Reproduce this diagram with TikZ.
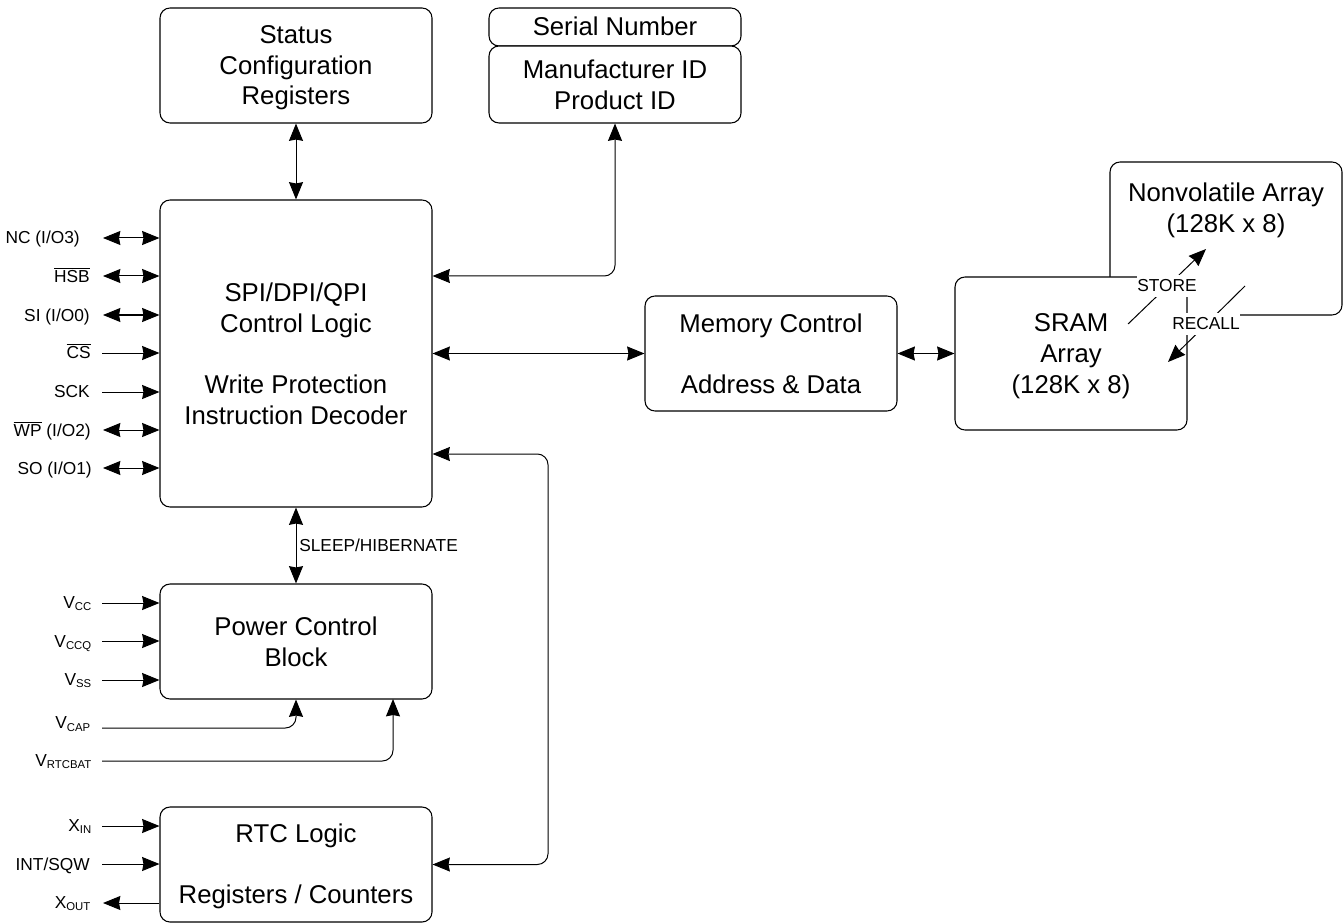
\documentclass[tikz,border=0pt]{standalone}
\usepackage{fontspec}
\setmainfont{Liberation Sans}
\usetikzlibrary{arrows.meta,calc}
\newcommand\bigfont{\fontsize{19.3}{23}\selectfont}
\newcommand\smallfont{\fontsize{13}{15}\selectfont}
\newcommand\subfont{\fontsize{8.5}{9}\selectfont}
\newcommand\VV[2]{#1\raisebox{-2.2pt}{\subfont #2}}
\newcommand\OB[1]{$\overline{\mbox{\smallfont #1}}$}
\newcommand\tall[1]{\rule{0pt}{#1}}
\newcommand\blk[6]{\node[blk,minimum width={(#4-#2)*0.75pt},minimum height={(#5-#3)*0.75pt}] (#1) at ({(#2+#4)/2},{(#3+#5)/2}) {#6};}
\tikzset{
  blk/.style={draw=black,fill=white,line width=0.8pt,rounded corners=7.5pt,inner sep=0pt,align=center,font=\bigfont},
  lab/.style={anchor=base east,inner sep=0pt,font=\smallfont},
  sig/.style={line width=0.75pt,draw=black},
  twohead/.style={sig,{Stealth[length=13pt,width=10.5pt,inset=1pt]}-{Stealth[length=13pt,width=10.5pt,inset=1pt]}},
  onehead/.style={sig,-{Stealth[length=13pt,width=10.5pt,inset=1pt]}},
  roundbend/.style={rounded corners=8pt},
  caplabel/.style={fill=white,inner ysep=0pt,inner xsep=0.5pt,minimum height=16pt,font=\smallfont}
}
\begin{document}
\begin{tikzpicture}[x=0.75pt,y=-0.75pt]
\useasboundingbox (0,0) rectangle (1344,923);
% blocks
\blk{status}{160}{8}{432}{123}{\tall{17.2pt}Status\\Configuration\\Registers}
\blk{serial}{489}{8}{741}{46}{\rule[-1.5pt]{0pt}{1pt}Serial Number}
\blk{mfr}{489}{46}{741}{123}{Manufacturer ID\\Product ID}
\blk{spi}{160}{200}{432}{507}{SPI/DPI/QPI\\Control Logic\\~\\Write Protection\\Instruction Decoder}
\blk{mem}{645}{296}{897}{411}{Memory Control\\~\\Address \& Data}
\blk{nv}{1110}{162}{1342}{315}{}
\node[inner sep=0pt,align=center,font=\bigfont] (nvtext) at (1226,210.5) {Nonvolatile Array\\(128K x 8)};
\blk{sram}{955}{277}{1187}{430}{\tall{17.6pt}SRAM\\Array\\(128K x 8)}
\blk{power}{160}{584}{432}{699}{Power Control\\Block}
\blk{rtc}{160}{807}{432}{922}{\tall{17.2pt}RTC Logic\\~\\Registers / Counters}
% main connectors
\draw[twohead] (status.south) -- (spi.north);
\coordinate (pidturn) at (615,276);
\draw[twohead,roundbend] (mfr.south) -- (pidturn) -- (pidturn -| spi.east);
\draw[twohead] (spi.east |- mem.west) -- (mem.west);
\draw[twohead] (mem.east) -- (sram.west |- mem.east);
\draw[twohead] (spi.south) -- (power.north);
\node[anchor=west,inner sep=0pt,font=\smallfont] (sleep) at (299,545) {SLEEP/HIBERNATE};
\coordinate (busturn) at (548,454);
\draw[twohead,roundbend] (busturn -| spi.east) -- (busturn) -- (busturn |- rtc.east) -- (rtc.east);
% store / recall
\coordinate (storeA) at (1128,324);
\coordinate (storeB) at (1206,249);
\coordinate (recallA) at (1245,286);
\coordinate (recallB) at (1168,362);
\draw[onehead] (storeA) -- (storeB);
\draw[onehead] (recallA) -- (recallB);
\node[caplabel] (store) at (1167,286) {STORE};
\node[caplabel] (recall) at (1206,324) {RECALL};
% left pins: SPI
\node[lab] (lnc) at (80,244) {NC (I/O3)};
\node[lab] (lhsb) at (90,282) {\OB{HSB}};
\node[lab] (lsi) at (90,321) {SI (I/O0)};
\node[lab] (lcs) at (91,358.5) {\OB{CS}};
\node[lab] (lsck) at (90,397) {SCK};
\node[lab] (lwp) at (91,436) {\OB{WP} (I/O2)};
\node[lab] (lso) at (92,474) {SO (I/O1)};
\coordinate (pnc) at (103,238);
\coordinate (phsb) at (103,276);
\coordinate (psi) at (103,315);
\coordinate (pcs) at (102,353);
\coordinate (psck) at (102,392);
\coordinate (pwp) at (103,430);
\coordinate (pso) at (103,468);
\draw[twohead] (pnc) -- (pnc -| spi.west);
\draw[twohead] (phsb) -- (phsb -| spi.west);
\draw[twohead] (psi) -- (psi -| spi.west);
\draw[onehead] (pcs) -- (pcs -| spi.west);
\draw[onehead] (psck) -- (psck -| spi.west);
\draw[twohead] (pwp) -- (pwp -| spi.west);
\draw[twohead] (pso) -- (pso -| spi.west);
% left pins: power
\node[lab] (lcc) at (91.5,608) {\VV{V}{CC}};
\node[lab] (lccq) at (91.5,647) {\VV{V}{CCQ}};
\node[lab] (lss) at (91.5,685) {\VV{V}{SS}};
\node[lab] (lcap) at (90.5,728.5) {\VV{V}{CAP}};
\node[lab] (lbat) at (91.5,766) {\VV{V}{RTCBAT}};
\coordinate (pcc) at (102,603);
\coordinate (pccq) at (102,641);
\coordinate (pss) at (102,680);
\coordinate (pcap) at (102,728);
\coordinate (pbat) at (102,761);
\draw[onehead] (pcc) -- (pcc -| power.west);
\draw[onehead] (pccq) -- (pccq -| power.west);
\draw[onehead] (pss) -- (pss -| power.west);
\draw[onehead,roundbend] (pcap) -- (pcap -| power.south) -- (power.south);
\coordinate (batx) at (393,699);
\draw[onehead,roundbend] (pbat) -- (pbat -| batx) -- (batx);
% left pins: RTC
\node[lab] (lxin) at (91.5,831) {\VV{X}{IN}};
\node[lab] (lint) at (90,870) {INT/SQW};
\node[lab] (lxout) at (90.5,908) {\VV{X}{OUT}};
\coordinate (pxin) at (102,826);
\coordinate (pint) at (102,864);
\coordinate (pxout) at (103,903);
\draw[onehead] (pxin) -- (pxin -| rtc.west);
\draw[onehead] (pint) -- (pint -| rtc.west);
\draw[onehead] (pxout -| rtc.west) -- (pxout);
\end{tikzpicture}
\end{document}
